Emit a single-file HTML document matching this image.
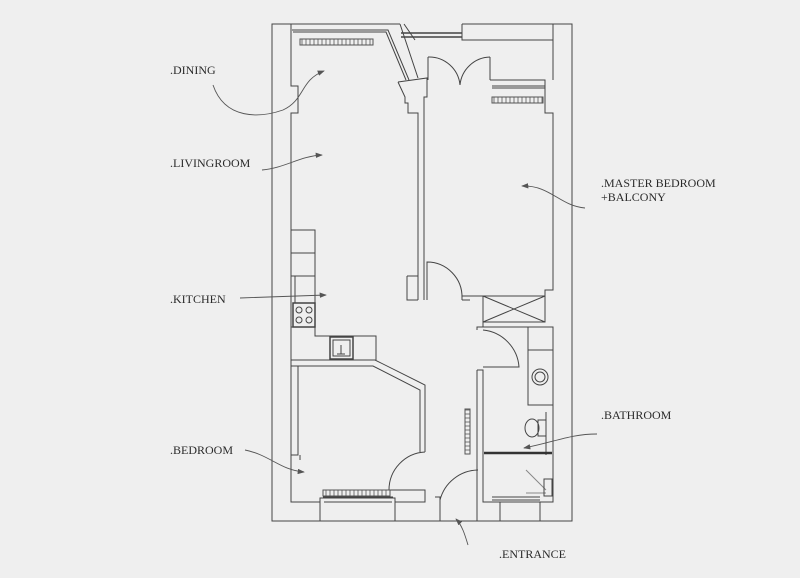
<!DOCTYPE html>
<html><head><style>
html,body{margin:0;padding:0;background:#efefef;}
svg{display:block}
text{font-family:"Liberation Serif",serif;font-size:12px;fill:#2a2a2a;}
</style></head><body>
<svg width="800" height="578" viewBox="0 0 800 578" xmlns="http://www.w3.org/2000/svg">
<rect width="800" height="578" fill="#efefef"/>
<defs>
<marker id="a" markerWidth="8" markerHeight="6" refX="7" refY="3" orient="auto"><path d="M0,0 L8,3 L0,6 Z" fill="#555"/></marker>
<pattern id="rh" width="4" height="10" patternUnits="userSpaceOnUse"><rect width="4" height="10" fill="#efefef"/><path d="M2,0 L2,10" stroke="#555" stroke-width="0.8"/></pattern>
<pattern id="rv" width="10" height="4" patternUnits="userSpaceOnUse"><rect width="10" height="4" fill="#efefef"/><path d="M0,2 L10,2" stroke="#555" stroke-width="0.8"/></pattern>
</defs>
<g fill="none" stroke="#444" stroke-width="1">
<path d="M292,24 L272,24 L272,521 L572,521 L572,24 L555,24"/>
<path d="M292,24 L400,24"/>
<path d="M462,24 L555,24"/>
<path d="M291,30 L291,86 L298,86 L298,113 L291,113 L291,502 L320,502 L320,498 L395,498 L395,502 L425,502 L425,497"/>
<path d="M320,502 L320,521 M395,502 L395,521"/>
<path d="M323,497 L393,497 M324,502 L392,502"/>
<path d="M292,30 L388,30 L409,80 M293,32 L386,32 L406,80 M291,24 L291,30"/>
<path d="M400,24 L418,78 M404,24 L415,40"/>
<path d="M401,33 L462,33 M401,37 L462,37" stroke-width="1.6"/>
<rect x="300" y="39" width="73" height="6" fill="url(#rh)" stroke="#555"/>
<path d="M398,82 L427,78 L427,97 L424,97 L424,113 M398,82 L405,97 L405,103 L408,103 L408,113 L418,113 L418,300"/>
<path d="M424,113 L424,300 M407,276 L418,276 M407,276 L407,300 L418,300"/>
<path d="M428,80 L428,57 M490,80 L490,57" />
<path d="M428,57 A31,31 0 0 1 460,85 A31,31 0 0 1 490,57"/>
<path d="M490,80 L545,80 L545,113 L553,113 L553,290 L545,290 L545,296"/>
<path d="M462,24 L462,40 L553,40 L553,80 M553,24 L553,40 M572,24 L553,24"/>
<path d="M492,86 L545,86 M492,88 L545,88"/>
<rect x="492" y="97" width="51" height="6" fill="url(#rh)" stroke="#555"/>
<path d="M427,300 L427,262 A35,35 0 0 1 462,298"/>
<path d="M462,300 L462,296 L483,296 L483,327 M462,300 L470,300"/>
<rect x="483" y="296" width="62" height="26"/>
<path d="M483,296 L545,322 M545,296 L483,322"/>
<path d="M483,327 L553,327 L553,502 L483,502 L483,370 M477,330 L477,327 L483,327"/>
<path d="M477,370 L483,370 L483,502 M477,370 L477,521"/>
<path d="M483,330 A40,40 0 0 1 519,367 L483,367"/>
<rect x="528" y="327" width="25" height="23"/>
<rect x="528" y="350" width="25" height="55"/>
<circle cx="540" cy="377" r="8"/><circle cx="540" cy="377" r="5"/>
<path d="M546,412 L546,455"/>
<ellipse cx="532" cy="428" rx="7" ry="9"/>
<rect x="538" y="420" width="8" height="16"/>
<path d="M484,453 L552,453" stroke-width="2.5" stroke="#333"/>
<path d="M526,470 L546,490 M526,493 L546,493" stroke="#888"/>
<rect x="544" y="479" width="8" height="17"/>
<path d="M492,497 L540,497 M492,500 L540,500 M500,502 L500,521 M540,502 L540,521"/>
<rect x="465" y="409" width="5" height="45" fill="url(#rv)" stroke="#555"/>
<path d="M478,470 A40,40 0 0 0 440,500 L440,512 M435,497 L440,497 L440,521"/>
<path d="M425,452 A38,38 0 0 0 389,490 L425,490 L425,497 M425,452 L425,388"/>
<path d="M291,360 L375,360 L425,385 L425,452 M291,366 L373,366 L420,390 L420,452"/>
<path d="M298,366 L298,455 L291,455 M300,455 L300,460"/>
<path d="M291,230 L315,230 L315,303 M291,253 L315,253 M291,276 L315,276 M295,276 L295,303 M298,303 L315,303"/>
<rect x="293" y="303" width="22" height="24" stroke-width="1.5"/>
<circle cx="299" cy="310" r="3"/><circle cx="309" cy="310" r="3"/><circle cx="299" cy="320" r="3"/><circle cx="309" cy="320" r="3"/>
<path d="M291,327 L315,327 L315,336 L376,336 L376,360"/>
<rect x="330" y="337" width="23" height="22" stroke-width="1.5"/>
<rect x="333" y="340" width="17" height="16"/>
<path d="M341,345 L341,354 M337,354 L345,354"/>
<rect x="323" y="490" width="67" height="6" fill="url(#rh)" stroke="#555"/>
</g>
<g fill="none" stroke="#555" stroke-width="0.9" marker-end="url(#a)">
<path d="M213,85 C225,120 260,118 283,110 C305,100 300,80 324,71"/>
<path d="M262,170 C285,168 300,156 322,155"/>
<path d="M240,298 L326,295"/>
<path d="M245,450 C270,455 280,470 304,472"/>
<path d="M585,208 C560,206 550,185 522,186"/>
<path d="M597,434 C570,434 555,442 524,448"/>
<path d="M468,545 C465,535 462,525 456,519"/>
</g>
<text x="170" y="74">.DINING</text>
<text x="170" y="167">.LIVINGROOM</text>
<text x="170" y="303">.KITCHEN</text>
<text x="170" y="454">.BEDROOM</text>
<text x="601" y="187">.MASTER BEDROOM</text>
<text x="601" y="201">+BALCONY</text>
<text x="601" y="419">.BATHROOM</text>
<text x="499" y="558">.ENTRANCE</text>
</svg>
</body></html>
